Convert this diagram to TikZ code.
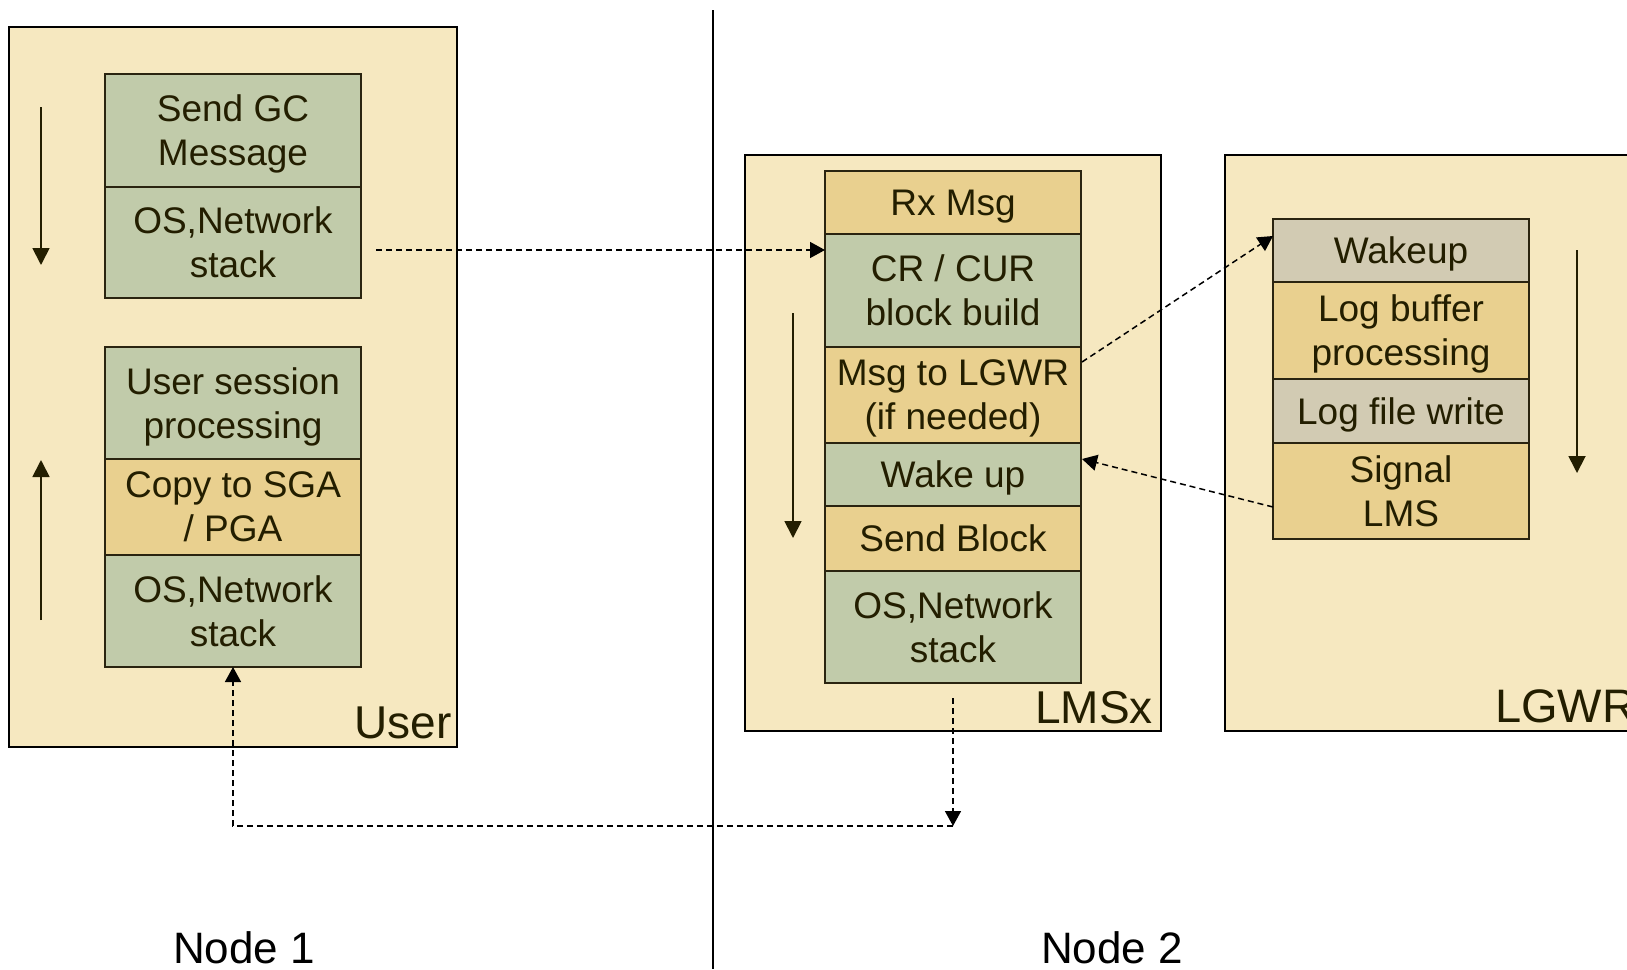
\documentclass[tikz,border=0pt]{standalone}
\usepackage{fontspec}
\setmainfont{Liberation Sans}
\usetikzlibrary{arrows.meta}
\definecolor{bgcream}{HTML}{F6E8C0}
\definecolor{cgreen}{HTML}{C1CBAA}
\definecolor{ctan}{HTML}{E9D08F}
\definecolor{cgrey}{HTML}{D2CBB3}
\definecolor{celltext}{HTML}{231E00}
\definecolor{celledge}{HTML}{2A2410}
\begin{document}
\begin{tikzpicture}[x=1pt,y=-1pt,
  outerbox/.style={draw=black, line width=2pt, fill=bgcream, inner sep=0pt, outer sep=0pt, anchor=north west},
  cell/.style={draw=celledge, line width=1.5pt, minimum width=256pt, inner sep=0pt, outer sep=0pt,
    align=center, font=\fontsize{37}{44}\selectfont, text=celltext, text depth=0pt, anchor=north},
  boxlabel/.style={font=\fontsize{46}{50}\selectfont, text=celltext, inner sep=0pt},
  nodelabel/.style={font=\fontsize{44}{48}\selectfont, text=black, inner sep=0pt, anchor=base},
  flowarrow/.style={line width=1.8pt, draw=celltext, -{Triangle[length=17pt,width=17pt]}},
  msgarrow/.style={line width=1.5pt, draw=black, dash pattern=on 6pt off 4pt, -{Triangle[length=15pt,width=16pt]}}]
\useasboundingbox (0,0) rectangle (1627,969);
\fill[white] (0,0) rectangle (1627,969);

% divider between nodes
\draw[line width=2pt] (713,10) -- (713,969);

% outer process boxes
\node[outerbox, minimum width=448pt, minimum height=720pt] (userbox) at (9,27) {};
\node[outerbox, minimum width=416pt, minimum height=576pt] (lmsbox) at (745,155) {};
\node[outerbox, minimum width=430pt, minimum height=576pt] (lgwrbox) at (1225,155) {};

% User stacks
\node[cell, fill=cgreen, minimum height=113pt] (sgc) at (233,74) {Send GC\\Message};
\node[cell, fill=cgreen, minimum height=111pt] (os1) at (233,187) {OS,Network\\stack};
\node[cell, fill=cgreen, minimum height=112pt] (usp) at (233,347) {User session\\processing};
\node[cell, fill=ctan, minimum height=96pt] (cpy) at (233,459) {Copy to SGA\\/ PGA};
\node[cell, fill=cgreen, minimum height=112pt] (os2) at (233,555) {OS,Network\\stack};

% LMSx stack
\node[cell, fill=ctan, minimum height=63pt] (rx) at (953,171) {Rx Msg};
\node[cell, fill=cgreen, minimum height=113pt] (cr) at (953,234) {CR / CUR\\block build};
\node[cell, fill=ctan, minimum height=96pt] (msg) at (953,347) {Msg to LGWR\\(if needed)};
\node[cell, fill=cgreen, minimum height=63pt] (wk) at (953,443) {Wake up};
\node[cell, fill=ctan, minimum height=65pt] (sb) at (953,506) {Send Block};
\node[cell, fill=cgreen, minimum height=112pt] (os3) at (953,571) {OS,Network\\stack};

% LGWR stack
\node[cell, fill=cgrey, minimum height=63pt] (lwk) at (1401,219) {Wakeup};
\node[cell, fill=ctan, minimum height=97pt] (lbp) at (1401,282) {Log buffer\\processing};
\node[cell, fill=cgrey, minimum height=64pt] (lfw) at (1401,379) {Log file write};
\node[cell, fill=ctan, minimum height=96pt] (sig) at (1401,443) {Signal\\LMS};

% box labels
\node[boxlabel, anchor=base east] (luser) at (452,738) {User};
\node[boxlabel, anchor=base west] (llms) at (1035,723) {LMSx};
\node[boxlabel, anchor=base west, font=\fontsize{47}{50}\selectfont] (llgwr) at (1495,722) {LGWR};

% node labels
\node[nodelabel] (n1) at (244,963) {Node 1};
\node[nodelabel] (n2) at (1112,963) {Node 2};

% flow direction arrows
\coordinate (ua1) at (41,107); \coordinate (ua2) at (41,265);
\draw[flowarrow] (ua1) -- (ua2);
\coordinate (ub1) at (41,620); \coordinate (ub2) at (41,460);
\draw[flowarrow] (ub1) -- (ub2);
\coordinate (la1) at (793,313); \coordinate (la2) at (793,538);
\draw[flowarrow] (la1) -- (la2);
\coordinate (ga1) at (1577,250); \coordinate (ga2) at (1577,473);
\draw[flowarrow] (ga1) -- (ga2);

% message connectors
\coordinate (m1) at (376,250);
\draw[msgarrow] (m1) -- (cr.west |- m1);
\coordinate (m2) at (1082,362);
\coordinate (m2e) at (1273,236);
\draw[msgarrow] (m2) -- (m2e);
\coordinate (m3) at (1273,507);
\coordinate (m3e) at (1082,459);
\draw[msgarrow] (m3) -- (m3e);
\coordinate (m4) at (953,698);
\coordinate (m4e) at (953,826);
\draw[msgarrow] (m4) -- (m4e);
\coordinate (m5) at (233,826);
\draw[msgarrow] (m4e) -- (m5) -- (os2.south);
\end{tikzpicture}
\end{document}
